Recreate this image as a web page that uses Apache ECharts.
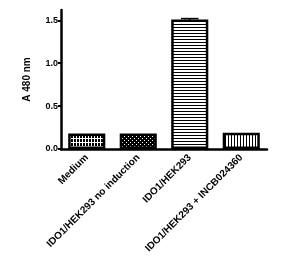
<!DOCTYPE html>
<html>
<head>
<meta charset="utf-8">
<script src="https://cdn.jsdelivr.net/npm/echarts@6/dist/echarts.min.js"></script>
<style>
  html, body { margin: 0; padding: 0; background: #fff; }
  #main { width: 292px; height: 259px; }
</style>
</head>
<body>
<div id="main"></div>
<script>
var categories = ["Medium", "IDO1/HEK293 no induction", "IDO1/HEK293", "IDO1/HEK293 + INCB024360"];
var values = [0.18, 0.18, 1.51, 0.19];
var errors = [0.0, 0.0, 0.01, 0.0];
var yTicks = [0, 0.5, 1.0, 1.5];

// small repeating fills, one per bar
function makePattern(w, h, bg, fg, draw) {
    var c = document.createElement("canvas");
    c.width = w;
    c.height = h;
    var ctx = c.getContext("2d");
    ctx.fillStyle = bg;
    ctx.fillRect(0, 0, w, h);
    ctx.fillStyle = fg;
    draw(ctx);
    return { image: c, repeat: "repeat" };
}

var fills = [
    makePattern(3, 4, "#000", "#fff", function(ctx) {
        ctx.fillRect(1, 0, 1, 4);
        ctx.fillRect(0, 2, 3, 1);
    }),
    makePattern(4, 4, "#000", "#fff", function(ctx) {
        ctx.fillRect(0, 0, 1, 1);
        ctx.fillRect(2, 2, 1, 1);
    }),
    makePattern(2, 3, "#fff", "#000", function(ctx) {
        ctx.fillRect(0, 0, 2, 1);
    }),
    makePattern(3, 2, "#fff", "#000", function(ctx) {
        ctx.fillRect(0, 0, 1, 2);
    })
];

var barData = values.map(function(v, i) {
    return { value: v, itemStyle: { color: fills[i] } };
});

var errData = values.map(function(v, i) {
    return [i, v - errors[i], v + errors[i]];
});

var chart = echarts.init(document.getElementById("main"));
chart.setOption({
    backgroundColor: "#fff",
    animation: false,
    grid: { left: 61, top: 10, width: 206, height: 139 },
    xAxis: {
        type: "category",
        data: categories,
        axisLine: { lineStyle: { color: "#000", width: 2.5 } },
        axisTick: { alignWithLabel: true, length: 4, lineStyle: { color: "#000", width: 2 } },
        axisLabel: {
            rotate: 45,
            interval: 0,
            margin: 7,
            color: "#000",
            fontFamily: "Liberation Sans",
            fontWeight: "bold",
            fontSize: 10
        }
    },
    yAxis: {
        type: "value",
        min: 0,
        max: 1.62,
        interval: 0.5,
        name: "A 480 nm",
        nameLocation: "middle",
        nameGap: 29,
        nameRotate: 90,
        nameTextStyle: { color: "#000", fontFamily: "Liberation Sans", fontWeight: "bold", fontSize: 10 },
        splitLine: { show: false },
        axisLine: { show: true, lineStyle: { color: "#000", width: 2.5 } },
        axisTick: { show: true, length: 3, customValues: yTicks, lineStyle: { color: "#000", width: 2 } },
        axisLabel: {
            customValues: yTicks,
            margin: 3,
            color: "#000",
            fontFamily: "Liberation Sans",
            fontWeight: "bold",
            fontSize: 9,
            formatter: function(v) { return v.toFixed(1); }
        }
    },
    series: [
        {
            type: "bar",
            data: barData,
            barCategoryGap: "28%",
            itemStyle: { borderColor: "#000", borderWidth: 2.5 }
        },
        {
            type: "custom",
            data: errData,
            z: 5,
            renderItem: function(params, api) {
                var i = api.value(0);
                var lo = api.coord([i, api.value(1)]);
                var hi = api.coord([i, api.value(2)]);
                if (Math.abs(lo[1] - hi[1]) < 0.5) return;
                var half = api.size([1, 0])[0] * 0.17;
                var style = { stroke: "#000", lineWidth: 1.5 };
                return {
                    type: "group",
                    children: [
                        { type: "line", shape: { x1: hi[0], y1: hi[1], x2: lo[0], y2: lo[1] }, style: style },
                        { type: "line", shape: { x1: hi[0] - half, y1: hi[1], x2: hi[0] + half, y2: hi[1] }, style: style }
                    ]
                };
            }
        }
    ]
});
</script>
</body>
</html>
